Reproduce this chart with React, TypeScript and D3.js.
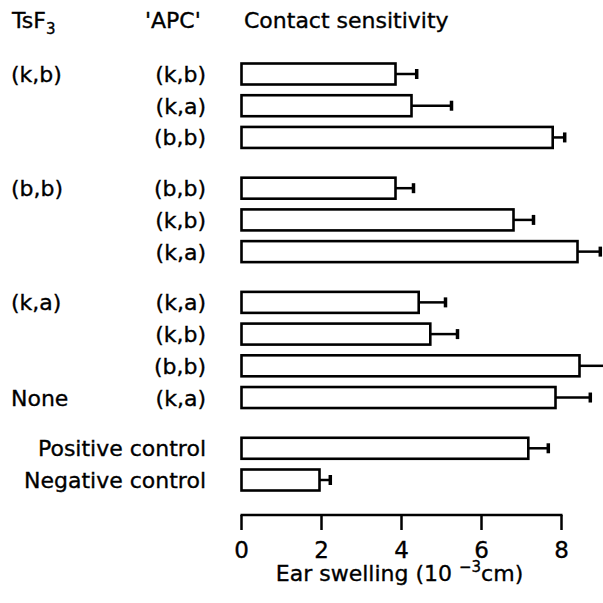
import React from 'react'
import { scaleLinear } from 'd3'

// rows top to bottom
const apcLabels = ['(k,b)', '(k,a)', '(b,b)', '(b,b)', '(k,b)', '(k,a)', '(k,a)', '(k,b)', '(b,b)', '(k,a)', 'Positive control', 'Negative control']
const swelling = [3.85, 4.25, 7.78, 3.85, 6.8, 8.4, 4.43, 4.72, 8.45, 7.85, 7.17, 1.95]
const errors = [0.53, 1.0, 0.3, 0.45, 0.5, 0.57, 0.67, 0.68, 0.65, 0.87, 0.5, 0.27]
const groupOf = [0, 0, 0, 1, 1, 1, 2, 2, 2, 2, 3, 3]

const tsfLabels = ['(k,b)', '(b,b)', '(k,a)', 'None']
const tsfRows = [0, 3, 6, 9]

const xTicks = [0, 2, 4, 6, 8]

export default function App() {
    const width = 603
    const height = 603
    const gap = 0.6
    const barH = 21
    const font = '"DejaVu Sans", sans-serif'

    const x = scaleLinear().domain([0, 8]).range([241.5, 561.5])
    const y = scaleLinear().domain([0, 12.8]).range([74, 480])
    const rowY = (i: number) => y(i + groupOf[i] * gap)

    const axisY = 515

    return (
        <div style={{ position: 'absolute', left: 0, top: 0 }}>
            <svg width={width} height={height} style={{ display: 'block', background: 'white' }} fontFamily={font} fontSize={22}>
                <g fill='black' stroke='black' strokeWidth={0.35}>
                    {/* headers */}
                    <text x={12} y={28}>
                        TsF<tspan fontSize={15} dy={6}>3</tspan>
                    </text>
                    <text x={145} y={28}>'APC'</text>
                    <text x={244} y={28}>Contact sensitivity</text>

                    {tsfLabels.map((l, k) => (
                        <text key={l} x={11} y={rowY(tsfRows[k]) + 8}>
                            {l}
                        </text>
                    ))}

                    {apcLabels.map((l, i) => (
                        <text key={i} x={206} y={rowY(i) + 8} textAnchor='end'>
                            {l}
                        </text>
                    ))}

                    {xTicks.map(t => (
                        <text key={t} x={x(t)} y={558} textAnchor='middle' fontSize={23}>
                            {t}
                        </text>
                    ))}
                    <text x={x(4) - 2} y={581} textAnchor='middle' fontSize={22}>
                        Ear swelling (10 <tspan fontSize={15} dy={-9}>−3</tspan>
                        <tspan dy={9}>cm)</tspan>
                    </text>
                </g>

                {swelling.map((v, i) => {
                    const cy = rowY(i)
                    const xe = x(v + errors[i])
                    return (
                        <g key={i} stroke='black'>
                            <line x1={x(v)} x2={xe} y1={cy} y2={cy} strokeWidth={2.5} />
                            <line x1={xe} x2={xe} y1={cy - 5} y2={cy + 5} strokeWidth={3.5} />
                            <rect
                                x={x(0)}
                                y={cy - barH / 2}
                                width={x(v) - x(0)}
                                height={barH}
                                fill='white'
                                strokeWidth={2.6}
                            />
                        </g>
                    )
                })}

                {/* x axis */}
                <g stroke='black' strokeWidth={2.5}>
                    <line x1={x(0) - 1} x2={x(8) + 1} y1={axisY} y2={axisY} />
                    {xTicks.map(t => (
                        <line key={t} x1={x(t)} x2={x(t)} y1={axisY} y2={axisY + 15} />
                    ))}
                </g>
            </svg>
        </div>
    )
}
